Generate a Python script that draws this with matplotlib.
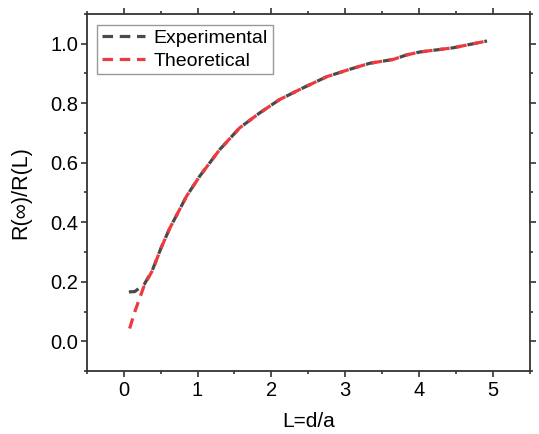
import matplotlib
matplotlib.use("Agg")
import matplotlib.pyplot as plt
from matplotlib.ticker import MultipleLocator

plt.rcParams['font.family'] = ['Liberation Sans', 'DejaVu Sans']

# curva teórica
x_theo = [0.08, 0.15, 0.28, 0.39, 0.50, 0.62, 0.85, 1.03, 1.30, 1.57, 1.84,
          2.11, 2.40, 2.75, 3.05, 3.33, 3.65, 3.83, 4.01, 4.46, 4.92]
y_theo = [0.043, 0.099, 0.189, 0.238, 0.31, 0.378, 0.487, 0.555, 0.644, 0.717, 0.767,
          0.812, 0.848, 0.889, 0.913, 0.934, 0.947, 0.962, 0.972, 0.986, 1.009]

# curva experimental
x_exp = [0.07, 0.15, 0.28, 0.39, 0.50, 0.62, 0.85, 1.03, 1.30, 1.57, 1.84,
         2.11, 2.40, 2.75, 3.05, 3.33, 3.65, 3.83, 4.01, 4.46, 4.92]
y_exp = [0.166, 0.167, 0.192, 0.240, 0.31, 0.378, 0.487, 0.555, 0.644, 0.717, 0.767,
         0.812, 0.848, 0.889, 0.913, 0.934, 0.947, 0.962, 0.972, 0.986, 1.009]

fig = plt.figure(figsize=(5.39, 4.34), dpi=100)
ax = fig.add_axes([0.161, 0.145, 0.822, 0.823])

ax.plot(x_exp, y_exp, color='#4a4a4a', lw=2.3, dashes=(3.3, 2.1), label='Experimental')
ax.plot(x_theo, y_theo, color='#ec3a40', lw=2.3, dashes=(3.3, 2.1), label='Theoretical')

ax.set_xlim(-0.5, 5.5)
ax.set_ylim(-0.1, 1.1)
ax.xaxis.set_major_locator(MultipleLocator(1))
ax.xaxis.set_minor_locator(MultipleLocator(0.5))
ax.yaxis.set_major_locator(MultipleLocator(0.2))
ax.yaxis.set_minor_locator(MultipleLocator(0.1))
ax.yaxis.set_major_formatter(plt.FormatStrFormatter('%.1f'))

ax.tick_params(which='both', direction='out', top=True, right=True,
               labeltop=False, labelright=False, color='#333333', width=1.2)
ax.tick_params(which='major', length=4.5, labelsize=14.5)
ax.tick_params(axis='x', which='major', pad=3)
ax.tick_params(axis='y', which='major', pad=1.5)
ax.tick_params(which='minor', length=2.5)
for s in ax.spines.values():
    s.set_linewidth(1.3)
    s.set_color('#333333')

ax.set_xlabel('L=d/a', fontsize=15, labelpad=8.5)
ax.set_ylabel('R(∞)/R(L)', fontsize=15.5, labelpad=14)

leg = ax.legend(loc='upper left', fontsize=14, handlelength=2.2, handletextpad=0.45,
                borderpad=0.25, labelspacing=0.25, borderaxespad=0.55, fancybox=False,
                edgecolor='#999999', framealpha=1)
leg.get_frame().set_linewidth(1.0)

fig.savefig('out.png', dpi=100)
